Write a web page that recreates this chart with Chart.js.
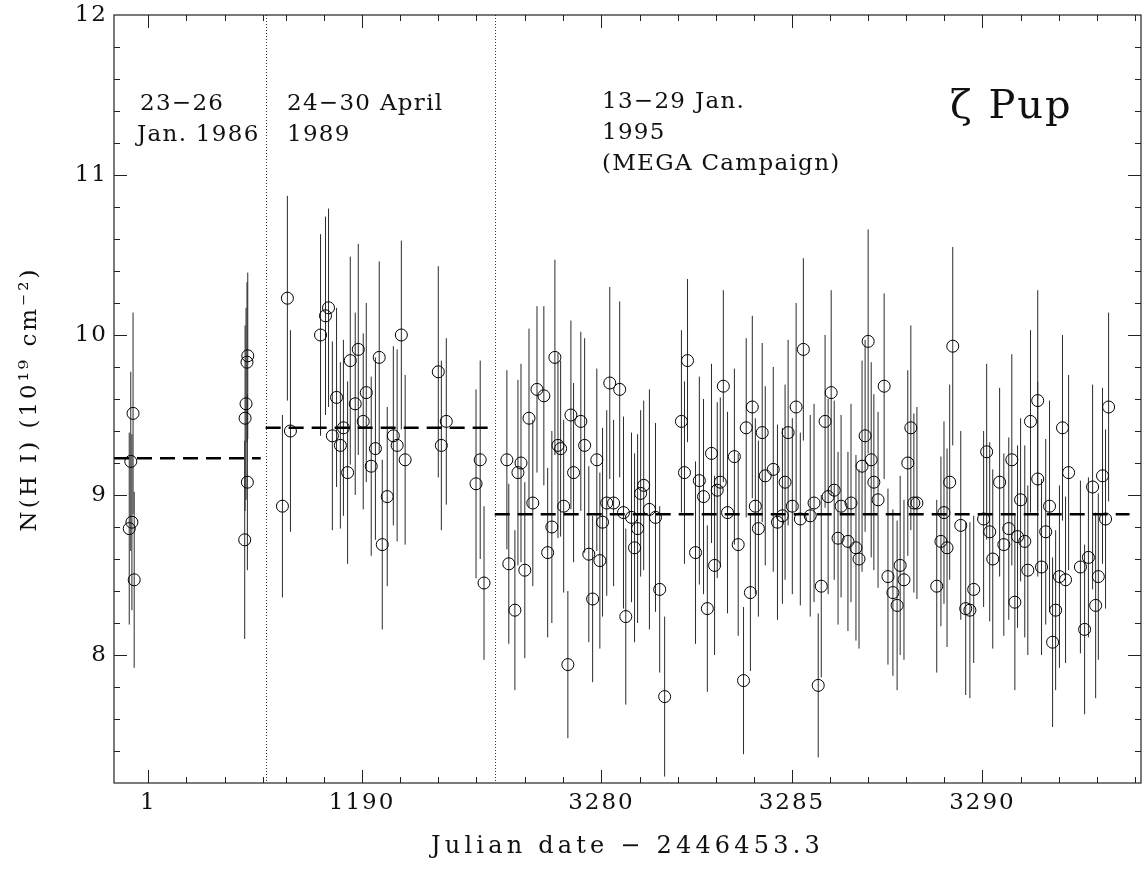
<!DOCTYPE html>
<html>
<head>
<meta charset="utf-8">
<script src="https://cdn.jsdelivr.net/npm/chart.js@4/dist/chart.umd.min.js"></script>
<style>
    html, body { margin: 0; padding: 0; background: #fff; }
    canvas { display: block; }
</style>
</head>
<body>
<canvas id="nhChart" width="1148" height="871"></canvas>
<script>
// broken time axis: three observing runs, days = JD - 2446453.3
const segStart = [0.10, 1187.47, 3277.20];
const segEnd = [4.08, 1193.48, 3294.16];

// 23-26 Jan. 1986
const days1986 = [0.60, 0.54, 0.57, 0.50, 0.63, 3.61, 3.59, 3.565, 3.54, 3.60, 3.53];
const nh1986 = [9.51, 9.21, 8.83, 8.79, 8.47, 9.87, 9.83, 9.57, 9.48, 9.08, 8.72];
const err1986 = [0.63, 0.56, 0.55, 0.60, 0.55, 0.52, 0.50, 0.60, 0.58, 0.55, 0.62];

// 24-30 April 1989
const days1989 = [1187.91, 1188.04, 1188.12, 1188.91, 1189.04, 1189.12, 1189.22, 1189.33,
    1189.43, 1189.51, 1189.62, 1189.69, 1189.82, 1189.90, 1190.03, 1190.11, 1190.24,
    1190.35, 1190.45, 1190.53, 1190.66, 1190.82, 1190.92, 1191.03, 1191.13, 1192.00,
    1192.08, 1192.21, 1192.99, 1193.10, 1193.20];
const nh1989 = [8.93, 10.23, 9.40, 10.00, 10.12, 10.17, 9.37, 9.61,
    9.31, 9.42, 9.14, 9.84, 9.57, 9.91, 9.46, 9.64, 9.18,
    9.29, 9.86, 8.69, 8.99, 9.37, 9.31, 10.00, 9.22, 9.77,
    9.31, 9.46, 9.07, 9.22, 8.45];
const err1989 = [0.57, 0.64, 0.63, 0.63, 0.62, 0.62, 0.59, 0.56,
    0.52, 0.55, 0.57, 0.65, 0.57, 0.66, 0.55, 0.56, 0.56,
    0.57, 0.60, 0.53, 0.56, 0.56, 0.60, 0.59, 0.53, 0.66,
    0.53, 0.52, 0.59, 0.62, 0.48];

// 13-29 Jan. 1995 (MEGA campaign)
const days1995 = [3277.52, 3277.57, 3277.73, 3277.81, 3277.89, 3277.99, 3278.10, 3278.20,
    3278.31, 3278.49, 3278.59, 3278.70, 3278.78, 3278.86, 3278.93, 3279.01, 3279.12,
    3279.20, 3279.27, 3279.46, 3279.56, 3279.67, 3279.77, 3279.88, 3279.96, 3280.03,
    3280.14, 3280.22, 3280.32, 3280.48, 3280.58, 3280.64, 3280.79, 3280.87, 3280.95,
    3281.03, 3281.11, 3281.26, 3281.42, 3281.53, 3281.66, 3282.10, 3282.18, 3282.26,
    3282.47, 3282.57, 3282.68, 3282.78, 3282.89, 3282.97, 3283.04, 3283.12, 3283.20,
    3283.31, 3283.49, 3283.59, 3283.73, 3283.80, 3283.91, 3283.96, 3284.04, 3284.12,
    3284.22, 3284.30, 3284.51, 3284.62, 3284.75, 3284.82, 3284.90, 3285.01, 3285.11,
    3285.22, 3285.30, 3285.48, 3285.58, 3285.69, 3285.77, 3285.87, 3285.95, 3286.03,
    3286.11, 3286.21, 3286.29, 3286.47, 3286.55, 3286.68, 3286.76, 3286.84, 3286.92,
    3287.00, 3287.08, 3287.15, 3287.26, 3287.42, 3287.52, 3287.65, 3287.76, 3287.84,
    3287.94, 3288.04, 3288.12, 3288.20, 3288.28, 3288.80, 3288.91, 3288.99, 3289.07,
    3289.14, 3289.22, 3289.43, 3289.56, 3289.67, 3289.77, 3290.03, 3290.11, 3290.19,
    3290.27, 3290.45, 3290.56, 3290.69, 3290.77, 3290.85, 3290.92, 3291.00, 3291.11,
    3291.19, 3291.26, 3291.45, 3291.45, 3291.55, 3291.66, 3291.76, 3291.84, 3291.92,
    3292.02, 3292.10, 3292.18, 3292.26, 3292.57, 3292.68, 3292.78, 3292.89, 3292.97,
    3293.04, 3293.15, 3293.23, 3293.31];
const nh1995 = [9.22, 8.57, 8.28, 9.14, 9.20, 8.53, 9.48, 8.95,
    9.66, 9.62, 8.64, 8.80, 9.86, 9.31, 9.29, 8.93, 7.94,
    9.50, 9.14, 9.46, 9.31, 8.63, 8.35, 9.22, 8.59, 8.83,
    8.95, 9.70, 8.95, 9.66, 8.89, 8.24, 8.86, 8.67, 8.79,
    9.01, 9.06, 8.91, 8.86, 8.41, 7.74, 9.46, 9.14, 9.84,
    8.64, 9.09, 8.99, 8.29, 9.26, 8.56, 9.03, 9.08, 9.68,
    8.89, 9.24, 8.69, 7.84, 9.42, 8.39, 9.55, 8.93, 8.79,
    9.39, 9.12, 9.16, 8.83, 8.87, 9.08, 9.39, 8.93, 9.55,
    8.85, 9.91, 8.87, 8.95, 7.81, 8.43, 9.46, 8.99, 9.64,
    9.03, 8.73, 8.93, 8.71, 8.95, 8.67, 8.60, 9.18, 9.37,
    9.96, 9.22, 9.08, 8.97, 9.68, 8.49, 8.39, 8.31, 8.56,
    8.47, 9.20, 9.42, 8.95, 8.95, 8.43, 8.71, 8.89, 8.67,
    9.08, 9.93, 8.81, 8.29, 8.28, 8.41, 8.85, 9.27, 8.77,
    8.60, 9.08, 8.69, 8.79, 9.22, 8.33, 8.74, 8.97, 8.71,
    8.53, 9.46, 9.59, 9.10, 8.55, 8.77, 8.93, 8.08, 8.28,
    8.49, 9.42, 8.47, 9.14, 8.55, 8.16, 8.61, 9.05, 8.31,
    8.49, 9.12, 8.85, 9.55];
const err1995 = [0.56, 0.50, 0.50, 0.58, 0.62, 0.55, 0.56, 0.52,
    0.52, 0.56, 0.53, 0.60, 0.61, 0.58, 0.55, 0.54, 0.46,
    0.59, 0.56, 0.56, 0.67, 0.55, 0.52, 0.57, 0.55, 0.59,
    0.58, 0.60, 0.52, 0.55, 0.60, 0.55, 0.53, 0.59, 0.59,
    0.52, 0.53, 0.75, 0.59, 0.52, 0.50, 0.57, 0.57, 0.51,
    0.57, 0.65, 0.61, 0.52, 0.56, 0.56, 0.55, 0.53, 0.60,
    0.63, 0.55, 0.57, 0.46, 0.56, 0.49, 0.57, 0.55, 0.55,
    0.56, 0.56, 0.64, 0.61, 0.55, 0.61, 0.58, 0.55, 0.65,
    0.54, 0.57, 0.63, 0.62, 0.45, 0.57, 0.54, 0.61, 0.64,
    0.56, 0.54, 0.57, 0.56, 0.62, 0.58, 0.56, 0.66, 0.60,
    0.70, 0.61, 0.55, 0.55, 0.58, 0.55, 0.52, 0.53, 0.56,
    0.50, 0.58, 0.64, 0.56, 0.60, 0.54, 0.53, 0.57, 0.62,
    0.61, 0.62, 0.59, 0.54, 0.55, 0.46, 0.55, 0.55, 0.56,
    0.56, 0.59, 0.57, 0.57, 0.66, 0.55, 0.57, 0.51, 0.60,
    0.53, 0.57, 0.69, 0.61, 0.55, 0.58, 0.66, 0.53, 0.50,
    0.57, 0.58, 0.52, 0.61, 0.54, 0.53, 0.50, 0.64, 0.58,
    0.52, 0.55, 0.56, 0.59];

// mean level of each run
const meanLevel = [9.23, 9.42, 8.88];
const meanFrom = [0.10, 1187.47, 3277.20];
const meanTo = [3.95, 1193.48, 3293.86];

const xTickDays = [1, 1190, 3280, 3285, 3290];
const yTickValues = [8, 9, 10, 11, 12];

const notes = [
    ["23\u221226", 140, 110],
    ["Jan. 1986", 137, 141],
    ["24\u221230 April", 287, 110],
    ["1989", 287, 141],
    ["13\u221229 Jan.", 602, 108],
    ["1995", 602, 139],
    ["(MEGA Campaign)", 602, 170],
];
const xTitle = "Julian date \u2212 2446453.3";
const yTitle = "N(H I) (10\u00b9\u2079 cm\u207b\u00b2)";
const starName = "\u03b6 Pup";

const FONT = '"DejaVu Serif", serif';

// day -> position on the joined (broken) axis
function axisX(day) {
    let offset = 0;
    for (let i = 0; i < segStart.length; i++) {
        if (day <= segEnd[i] || i === segStart.length - 1) {
            return offset + (day - segStart[i]);
        }
        offset += segEnd[i] - segStart[i];
    }
}
const axisMax = axisX(segEnd[segEnd.length - 1]);

const allDays = days1986.concat(days1989, days1995);
const allNH = nh1986.concat(nh1989, nh1995);
const allErr = err1986.concat(err1989, err1995);

const points = allDays.map((d, i) => ({ x: axisX(d), y: allNH[i] }));
const bars = [];
allDays.forEach((d, i) => {
    const x = axisX(d);
    bars.push({ x: x, y: allNH[i] - allErr[i] });
    bars.push({ x: x, y: allNH[i] + allErr[i] });
    bars.push({ x: x, y: null });
});
const means = [];
meanLevel.forEach((m, i) => {
    means.push({ x: axisX(meanFrom[i]), y: m });
    means.push({ x: axisX(meanTo[i]), y: m });
    means.push({ x: axisX(meanTo[i]), y: null });
});

function spacedText(ctx, text, x, y, spacing) {
    ctx.letterSpacing = spacing + "px";
    ctx.fillText(text, x, y);
}

// PGPLOT style box: inward ticks on all four sides, run separators, labels
const framePlugin = {
    id: "frame",
    beforeDraw(chart) {
        // wide Hershey-like spacing for the tick labels
        chart.ctx.letterSpacing = "2px";
    },
    beforeDatasetsDraw(chart) {
        const { ctx, chartArea: a, scales } = chart;
        ctx.save();
        ctx.strokeStyle = "#333";
        ctx.lineWidth = 1;
        ctx.setLineDash([1, 2]);
        for (let i = 1; i < segStart.length; i++) {
            const px = Math.round(scales.x.getPixelForValue(axisX(segStart[i]))) + 0.5;
            ctx.beginPath();
            ctx.moveTo(px, a.top);
            ctx.lineTo(px, a.bottom);
            ctx.stroke();
        }
        ctx.restore();
    },
    afterDraw(chart) {
        const { ctx, chartArea: a, scales } = chart;
        ctx.save();
        ctx.strokeStyle = "#222";
        ctx.lineWidth = 1.2;
        ctx.strokeRect(a.left, a.top, a.right - a.left, a.bottom - a.top);

        ctx.lineWidth = 1;
        ctx.beginPath();
        for (let i = 0; i < segStart.length; i++) {
            for (let d = Math.ceil(segStart[i]); d <= Math.floor(segEnd[i]); d++) {
                const px = Math.round(scales.x.getPixelForValue(axisX(d))) + 0.5;
                const len = xTickDays.includes(d) ? 13 : 6;
                ctx.moveTo(px, a.bottom);
                ctx.lineTo(px, a.bottom - len);
                ctx.moveTo(px, a.top);
                ctx.lineTo(px, a.top + len);
            }
        }
        for (let k = 37; k < 60; k++) {
            const py = Math.round(scales.y.getPixelForValue(k / 5)) + 0.5;
            const len = k % 5 === 0 ? 13 : 6;
            ctx.moveTo(a.left, py);
            ctx.lineTo(a.left + len, py);
            ctx.moveTo(a.right, py);
            ctx.lineTo(a.right - len, py);
        }
        ctx.stroke();

        ctx.fillStyle = "#111";
        ctx.textBaseline = "alphabetic";
        ctx.font = "23px " + FONT;
        notes.forEach(([text, x, y]) => spacedText(ctx, text, x, y, 1.3));
        ctx.font = "40px " + FONT;
        spacedText(ctx, starName, 950, 118, 2);

        // axis titles
        ctx.font = "24px " + FONT;
        ctx.textAlign = "center";
        spacedText(ctx, xTitle, (a.left + a.right) / 2, 853, 4.2);
        ctx.translate(36, (a.top + a.bottom) / 2);
        ctx.rotate(-Math.PI / 2);
        ctx.font = "23px " + FONT;
        spacedText(ctx, yTitle, 0, 0, 3);
        ctx.restore();
    },
};

const ctx = document.getElementById("nhChart").getContext("2d");
const chart = new Chart(ctx, {
    type: "scatter",
    data: {
        datasets: [
            {
                label: "N(H I)",
                data: points,
                pointStyle: "circle",
                pointRadius: 6,
                pointBorderWidth: 1,
                pointBorderColor: "#000",
                pointBackgroundColor: "rgba(0,0,0,0)",
                showLine: false,
                order: 1,
            },
            {
                label: "error",
                data: bars,
                showLine: true,
                spanGaps: false,
                borderColor: "#2a2a2a",
                borderWidth: 1,
                pointRadius: 0,
                order: 3,
            },
            {
                label: "mean",
                data: means,
                showLine: true,
                spanGaps: false,
                borderColor: "#000",
                borderWidth: 2.5,
                borderDash: [15, 8],
                pointRadius: 0,
                order: 2,
            },
        ],
    },
    options: {
        responsive: false,
        animation: false,
        devicePixelRatio: 1,
        layout: {
            padding: { left: 0, right: 4.5, top: 15, bottom: 0 },
        },
        scales: {
            x: {
                type: "linear",
                min: 0,
                max: axisMax,
                grid: { display: false, drawTicks: false },
                border: { display: false },
                afterFit: (scale) => {
                    scale.height = 88;
                    scale.paddingLeft = 0;
                    scale.paddingRight = 0;
                },
                afterBuildTicks: (scale) => {
                    scale.ticks = xTickDays.map((d) => ({ value: axisX(d) }));
                },
                ticks: {
                    autoSkip: false,
                    maxRotation: 0,
                    padding: 6,
                    color: "#111",
                    font: { family: FONT, size: 23 },
                    callback: (value, index) => String(xTickDays[index]),
                },
            },
            y: {
                min: 7.2,
                max: 12,
                grid: { display: false, drawTicks: false },
                border: { display: false },
                afterFit: (scale) => {
                    scale.width = 114;
                    scale.paddingTop = 0;
                    scale.paddingBottom = 0;
                },
                afterBuildTicks: (scale) => {
                    scale.ticks = yTickValues.map((v) => ({ value: v }));
                },
                ticks: {
                    padding: 6,
                    color: "#111",
                    font: { family: FONT, size: 23 },
                },
            },
        },
        plugins: {
            legend: { display: false },
            tooltip: { enabled: false },
        },
    },
    plugins: [framePlugin],
});
</script>
</body>
</html>
